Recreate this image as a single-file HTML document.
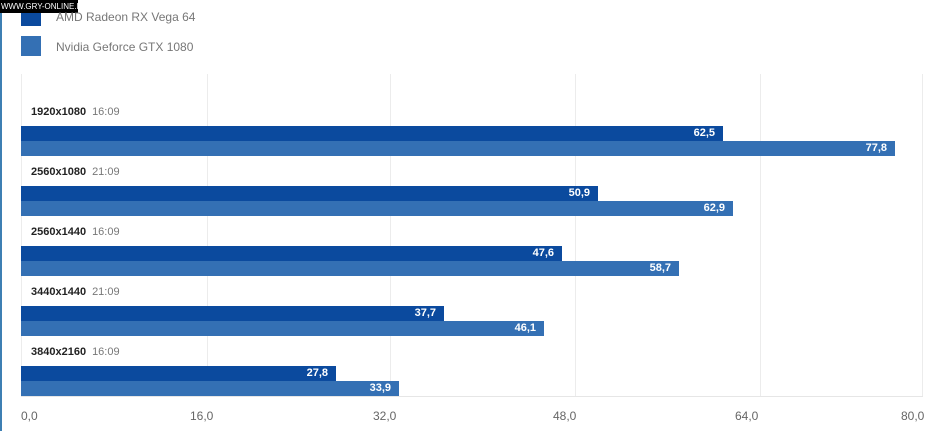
<!DOCTYPE html>
<html><head><style>
body{margin:0;width:931px;height:431px;background:#fff;position:relative;overflow:hidden;font-family:"Liberation Sans",sans-serif}
.a{position:absolute}
.g{position:absolute;top:74px;height:322px;width:1px;background:#ececec}
.b{position:absolute;height:15px;color:#fff;font-weight:bold;font-size:11px;line-height:15px;text-align:right;box-sizing:border-box;padding-right:8px}
.d{background:#0b4a9e}.l{background:#3470b4}
.lab{position:absolute;left:31px;font-size:11px;color:#222;font-weight:bold}
.lab span{font-weight:normal;color:#777;margin-left:6px}
.t{position:absolute;top:409px;font-size:12px;color:#666}
</style></head><body>
<div class="a" style="left:0;top:13px;width:2px;height:418px;background:#3d7fb3"></div>
<div class="a d" style="left:21px;top:10px;width:20px;height:16px"></div>
<div class="a l" style="left:21px;top:36px;width:20px;height:20px"></div>
<div class="a" style="left:0;top:0;width:78px;height:13px;background:#000;color:#fff;font-size:8px;line-height:13px;white-space:nowrap;overflow:hidden;padding-left:1px;box-sizing:border-box">WWW.GRY-ONLINE.PL</div>
<div class="a" style="left:56px;top:10px;font-size:12px;color:#777">AMD Radeon RX Vega 64</div>
<div class="a" style="left:56px;top:40px;font-size:12px;color:#777">Nvidia Geforce GTX 1080</div>
<div class="g" style="left:21px"></div><div class="g" style="left:207px"></div><div class="g" style="left:390px"></div><div class="g" style="left:575px"></div><div class="g" style="left:760px"></div><div class="g" style="left:922px"></div>
<div class="a" style="left:21px;top:396px;width:902px;height:1px;background:#e6e6e6"></div>

<div class="lab" style="top:106px">1920x1080<span>16:09</span></div>
<div class="b d" style="left:21px;top:126px;width:702px">62,5</div>
<div class="b l" style="left:21px;top:141px;width:874px">77,8</div>
<div class="lab" style="top:166px">2560x1080<span>21:09</span></div>
<div class="b d" style="left:21px;top:186px;width:577px">50,9</div>
<div class="b l" style="left:21px;top:201px;width:712px">62,9</div>
<div class="lab" style="top:226px">2560x1440<span>16:09</span></div>
<div class="b d" style="left:21px;top:246px;width:541px">47,6</div>
<div class="b l" style="left:21px;top:261px;width:658px">58,7</div>
<div class="lab" style="top:286px">3440x1440<span>21:09</span></div>
<div class="b d" style="left:21px;top:306px;width:423px">37,7</div>
<div class="b l" style="left:21px;top:321px;width:523px">46,1</div>
<div class="lab" style="top:346px">3840x2160<span>16:09</span></div>
<div class="b d" style="left:21px;top:366px;width:315px">27,8</div>
<div class="b l" style="left:21px;top:381px;width:378px">33,9</div>

<div class="t" style="left:21px">0,0</div>
<div class="t" style="left:190px">16,0</div>
<div class="t" style="left:373px">32,0</div>
<div class="t" style="left:553px">48,0</div>
<div class="t" style="left:735px">64,0</div>
<div class="t" style="left:901px">80,0</div>
</body></html>
